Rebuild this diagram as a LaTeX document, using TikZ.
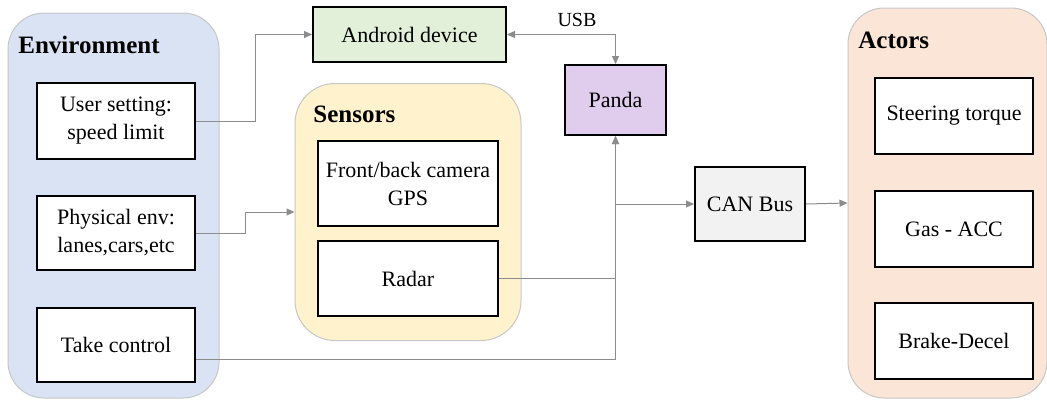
\documentclass[tikz,border=0pt]{standalone}
\usepackage{fontspec}
\setmainfont{Liberation Serif}
\usepackage{xcolor}
\usepackage{tikz}
\usetikzlibrary{arrows.meta, positioning}
\definecolor{envblue}{HTML}{DAE3F3}
\definecolor{sensyellow}{HTML}{FFF2CC}
\definecolor{actpeach}{HTML}{FBE5D6}
\definecolor{andgreen}{HTML}{E2F0D9}
\definecolor{pandalilac}{HTML}{E0CDEE}
\definecolor{busgray}{HTML}{F2F2F2}
\tikzset{
  group/.style={draw=black!22, line width=0.5pt, rounded corners=18pt},
  unit/.style={draw=black, line width=1pt, fill=white, align=center,
    inner sep=0pt, font=\fontsize{11}{14}\selectfont},
  title/.style={anchor=west, inner sep=0pt, font=\fontsize{12.5}{15}\selectfont\bfseries},
  link/.style={draw=black!45, line width=0.5pt,
    -{Triangle[length=4pt, width=3.5pt]}},
}

\begin{document}
\begin{tikzpicture}[x=0.5pt, y=-0.5pt]
    \useasboundingbox (0,0) rectangle (1047,402);
    % Environment group
    \node[group, fill=envblue, minimum width=105.5pt, minimum height=192.5pt]
      (env) at (113.5,205.5) {};
    \node[title] (envtitle) at (18,45) {Environment};
    \node[unit, minimum width=79pt, minimum height=38pt] (user) at (116,121)
      {User setting:\\speed limit};
    \node[unit, minimum width=79pt, minimum height=37pt] (phys) at (116,233)
      {Physical env:\\lanes,cars,etc};
    \node[unit, minimum width=79pt, minimum height=37pt] (take) at (116,345)
      {Take control};
    % Sensors group
    \node[group, fill=sensyellow, minimum width=113pt, minimum height=128.5pt,
      rounded corners=20pt] (sens) at (408,212) {};
    \node[title] (senstitle) at (313,114) {Sensors};
    \node[unit, minimum width=90pt, minimum height=42.5pt] (cam) at (408,183.5)
      {Front/back camera\\GPS};
    \node[unit, minimum width=90pt, minimum height=37.5pt] (radar) at (408,278.5)
      {Radar};
    % Actors group
    \node[group, fill=actpeach, minimum width=99.5pt, minimum height=195pt]
      (act) at (947.5,203) {};
    \node[title] (acttitle) at (858,40) {Actors};
    \node[unit, minimum width=79pt, minimum height=38pt] (steer) at (954,116)
      {Steering torque};
    \node[unit, minimum width=79pt, minimum height=38pt] (gas) at (954,229)
      {Gas - ACC};
    \node[unit, minimum width=79pt, minimum height=38pt] (brake) at (954,341)
      {Brake-Decel};
    % Devices
    \node[unit, fill=andgreen, minimum width=96.5pt, minimum height=27.5pt]
      (android) at (409.5,34.5) {Android device};
    \node[unit, fill=pandalilac, minimum width=50.5pt, minimum height=35pt]
      (panda) at (615.5,100) {Panda};
    \node[unit, fill=busgray, minimum width=55pt, minimum height=37pt]
      (bus) at (750,204) {CAN Bus};
    \node[font=\fontsize{10}{12}\selectfont] (usb) at (577,20) {USB};
    % Connectors
    \draw[link] (user.east) -- ++(59,0) |- (android.west);
    \draw[link] (phys.east) -- ++(49,0) |- (sens.west);
    \draw[link, {Triangle[length=4pt, width=3.5pt]}-{Triangle[length=4pt, width=3.5pt]}]
      (android.east) -| (panda.north);
    \draw[link] (radar.east) -| (panda.south);
    \draw[link] (take.-10) -| (panda.south);
    \coordinate (tap) at (panda.south |- bus.west);
    \draw[link] (tap) -- (bus.west);
    \draw[link] (bus.east) -- (act.west);
  \end{tikzpicture}
\end{document}
